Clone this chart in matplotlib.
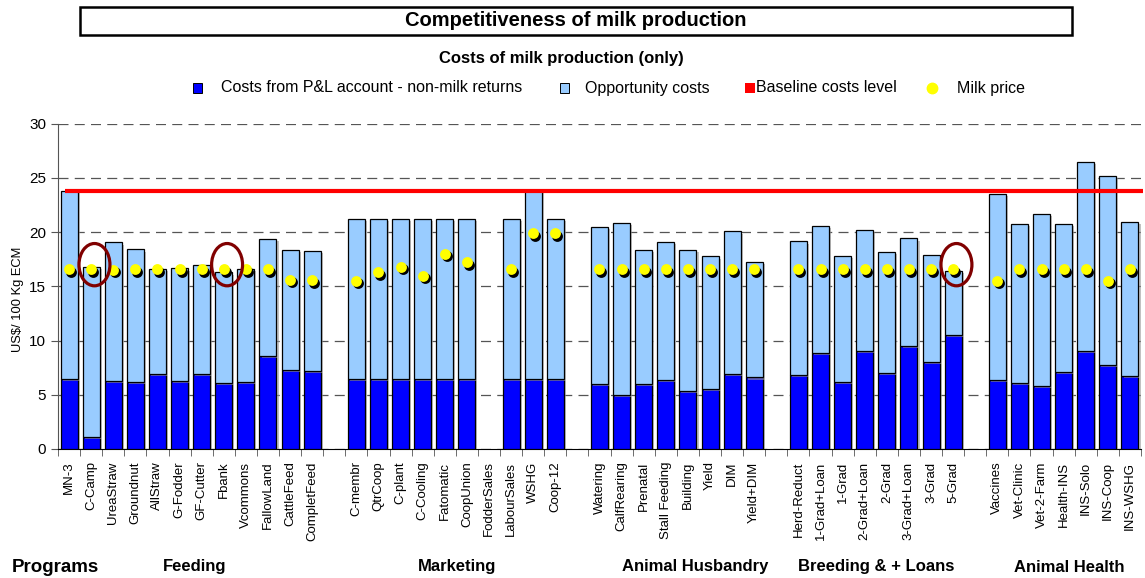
import numpy as np
import matplotlib.pyplot as plt
from matplotlib.patches import Rectangle, Ellipse
from matplotlib.lines import Line2D
import matplotlib.transforms as mtransforms
import matplotlib.patheffects as pe

plt.rcParams['font.family'] = ['Liberation Sans', 'DejaVu Sans']

# Programs grouped by theme
groups = ['Feeding', 'Marketing', 'Animal Husbandry', 'Breeding & + Loans', 'Animal Health']

feeding = ['MN-3', 'C-Camp', 'UreaStraw', 'Groundnut', 'AllStraw', 'G-Fodder', 'GF-Cutter',
           'Fbank', 'Vcommons', 'FallowLand', 'CattleFeed', 'CompletFeed']
feeding_pl = [6.42, 1.08, 6.27, 6.15, 6.9, 6.3, 6.9, 6.1, 6.15, 8.6, 7.28, 7.16]
feeding_opp = [17.38, 15.72, 12.78, 12.25, 9.7, 10.35, 10.03, 10.18, 10.45, 10.8, 11.09, 11.14]
feeding_milk = [16.6, 16.6, 16.55, 16.6, 16.6, 16.6, 16.6, 16.6, 16.6, 16.6, 15.6, 15.55]

marketing = ['C-membr', 'QtrCoop', 'C-plant', 'C-Cooling', 'Fatomatic', 'CoopUnion',
             'FodderSales', 'LabourSales', 'WSHG', 'Coop-12']
marketing_pl = [6.42, 6.42, 6.42, 6.42, 6.42, 6.42, np.nan, 6.42, 6.42, 6.42]
marketing_opp = [14.78, 14.78, 14.78, 14.78, 14.78, 14.78, np.nan, 14.78, 17.38, 14.78]
marketing_milk = [15.5, 16.3, 16.8, 15.97, 18.0, 17.2, np.nan, 16.56, 19.88, 19.88]

husbandry = ['Watering', 'CalfRearing', 'Prenatal', 'Stall Feeding', 'Building', 'Yield',
             'DIM', 'Yield+DIM']
husbandry_pl = [5.96, 4.95, 6.02, 6.36, 5.35, 5.56, 6.88, 6.6]
husbandry_opp = [14.54, 15.88, 12.35, 12.74, 13.02, 12.2, 13.18, 10.67]
husbandry_milk = [16.56] * 8

breeding = ['Herd-Reduct', '1-Grad+Loan', '1-Grad', '2-Grad+Loan', '2-Grad', '3-Grad+Loan',
            '3-Grad', '5-Grad']
breeding_pl = [6.82, 8.82, 6.15, 9.06, 7.03, 9.49, 7.99, 10.5]
breeding_opp = [12.32, 11.73, 11.67, 11.12, 11.13, 9.93, 9.86, 5.88]
breeding_milk = [16.6] * 8

health = ['Vaccines', 'Vet-Clinic', 'Vet-2-Farm', 'Health-INS', 'INS-Solo', 'INS-Coop', 'INS-WSHG']
health_pl = [6.36, 6.11, 5.84, 7.07, 9.06, 7.74, 6.7]
health_opp = [17.14, 14.66, 15.85, 13.7, 17.44, 17.46, 14.2]
health_milk = [15.5, 16.6, 16.6, 16.6, 16.6, 15.5, 16.6]

baseline = 23.75
highlighted = ['C-Camp', 'Fbank', '5-Grad']

# assemble with one empty slot between groups
blocks = [(feeding, feeding_pl, feeding_opp, feeding_milk),
          (marketing, marketing_pl, marketing_opp, marketing_milk),
          (husbandry, husbandry_pl, husbandry_opp, husbandry_milk),
          (breeding, breeding_pl, breeding_opp, breeding_milk),
          (health, health_pl, health_opp, health_milk)]
labels, pl, opp, milk = [], [], [], []
for k, (n, a, b, c) in enumerate(blocks):
    labels += n; pl += a; opp += b; milk += c
    if k < len(blocks) - 1:
        labels.append(''); pl.append(np.nan); opp.append(np.nan); milk.append(np.nan)
pl = np.array(pl, dtype=float)
opp = np.array(opp, dtype=float)
milk = np.array(milk, dtype=float)
x = np.arange(len(labels))

W, H = 1145, 578
fig = plt.figure(figsize=(W / 100, H / 100), dpi=100)
ax = fig.add_axes([58 / W, 1 - 449 / H, 1083 / W, 325.3 / H])

shadow = [pe.SimplePatchShadow(offset=(1.5, -1.5), shadow_rgbFace='#999999', alpha=0.6), pe.Normal()]
bw = 0.77
b1 = ax.bar(x, pl, width=bw, color='#0000FF', edgecolor='black', linewidth=0.9, zorder=3)
b2 = ax.bar(x, opp, bottom=pl, width=bw, color='#99CCFF', edgecolor='black', linewidth=0.9, zorder=3)
for r in list(b1) + list(b2):
    r.set_path_effects(shadow)

ax.plot([-0.2, len(labels) - 0.4], [baseline, baseline], color='#FF0000', lw=3, zorder=4,
        solid_capstyle='butt', clip_on=False)

shift = mtransforms.offset_copy(ax.transData, fig=fig, x=2, y=-2.5, units='dots')
ax.plot(x, milk, 'o', color='black', ms=7.8, mec='none', transform=shift, zorder=5)
ax.plot(x, milk, 'o', color='#FFFF00', ms=7.8, mec='none', zorder=6)

for name in highlighted:
    i = labels.index(name)
    ax.add_patch(Ellipse((i + 0.15, milk[i] + 0.4), 1.4, 3.9, fill=False,
                         edgecolor='#800000', lw=2.3, zorder=7))

ax.set_xlim(-0.5, len(labels) - 0.5)
ax.set_ylim(0, 30)
ax.set_yticks(np.arange(0, 31, 5))
ax.yaxis.grid(True, linestyle=(0, (8, 5)), color='#555555', lw=0.9, zorder=0)
ax.set_axisbelow(True)
ax.set_xticks(x)
ax.set_xticklabels(labels, rotation=90, fontsize=9.5)
ax.set_xticks(np.arange(-0.5, len(labels)), minor=True)
ax.tick_params(axis='x', which='major', length=0, pad=9)
ax.tick_params(axis='x', which='minor', length=5, direction='out', color='#555555')
ax.tick_params(axis='y', length=5, direction='out', labelsize=11, color='#555555')
for s in ['top', 'right']:
    ax.spines[s].set_visible(False)
ax.spines['left'].set_color('#555555')
ax.set_ylabel('US$/ 100 Kg ECM', fontsize=9.3)
ax.yaxis.set_label_coords(-0.031, 0.46)

# title box
fig.patches.append(Rectangle((80 / W, 1 - 35 / H), 992 / W, 28 / H, fill=False,
                             edgecolor='black', lw=1.8, transform=fig.transFigure))
fig.text(576 / W, 1 - 21 / H, 'Competitiveness of milk production', ha='center', va='center',
         fontsize=14.5, fontweight='bold')
fig.text(561 / W, 1 - 58 / H, 'Costs of milk production (only)', ha='center', va='center',
         fontsize=12, fontweight='bold')

# legend row
ly = 1 - 88 / H
fig.patches.append(Rectangle((193 / W, ly - 4.5 / H), 9 / W, 9 / H, facecolor='#0000FF',
                             edgecolor='black', lw=0.7, transform=fig.transFigure))
fig.text(221 / W, ly, 'Costs from P&L account - non-milk returns', va='center', fontsize=11.5)
fig.patches.append(Rectangle((560 / W, ly - 4.5 / H), 9 / W, 9 / H, facecolor='#99CCFF',
                             edgecolor='black', lw=0.7, transform=fig.transFigure))
fig.text(585 / W, ly, 'Opportunity costs', va='center', fontsize=11.5)
fig.patches.append(Rectangle((745 / W, ly - 5 / H), 10 / W, 10 / H, facecolor='#FF0000',
                             edgecolor='none', transform=fig.transFigure))
fig.text(756 / W, ly, 'Baseline costs level', va='center', fontsize=11.5)
fig.lines.append(Line2D([932 / W], [ly], marker='o', ls='none', color='#FFFF00', ms=7.5,
                        transform=fig.transFigure))
fig.text(957 / W, ly, 'Milk price', va='center', fontsize=11.5)

# group captions under the axis
group_x = [195, 457, 695, 876, 1069]
fig.text(12 / W, 1 - 567 / H, 'Programs', ha='left', va='center', fontsize=13.5,
         fontweight='bold')
for g, gx in zip(groups, group_x):
    fig.text(gx / W, 1 - 567 / H, g, ha='center', va='center', fontsize=12, fontweight='bold')

fig.savefig('out.png', dpi=100)
